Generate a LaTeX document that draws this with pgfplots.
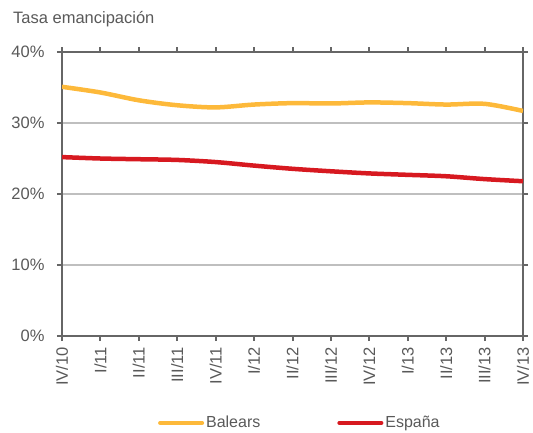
\documentclass[border=0pt]{standalone}
\usepackage{pgfplots}
\pgfplotsset{compat=1.18}
\usepackage{fontspec}
\setmainfont{Liberation Sans}
\definecolor{txt}{HTML}{595959}
\definecolor{axc}{HTML}{666666}
\definecolor{gridc}{HTML}{BFBFBF}
\definecolor{bal}{HTML}{FDB93A}
\definecolor{esp}{HTML}{D71920}
\begin{document}
\begin{tikzpicture}[x=1pt,y=1pt]
\path[use as bounding box] (0,0) rectangle (533,-432);
\node[anchor=west,text=txt,font=\fontsize{16.5}{18}\selectfont,inner sep=0pt] at (13,-19) {Tasa emancipación};
\begin{axis}[
  at={(62pt,-336pt)}, anchor=south west,
  scale only axis, width=461pt, height=284pt,
  xmin=0, xmax=12, ymin=0, ymax=40,
  xtick={0,...,12},
  xticklabels={IV/10,I/11,II/11,III/11,IV/11,I/12,II/12,III/12,IV/12,I/13,II/13,III/13,IV/13},
  xticklabel style={rotate=90, anchor=east, text=txt, font=\fontsize{16.5}{18}\selectfont, inner sep=2pt, xshift=-4pt},
  ytick={0,10,20,30,40},
  yticklabel={\pgfmathprintnumber{\tick}\%},
  yticklabel style={text=txt, font=\fontsize{16.5}{18}\selectfont, xshift=-9pt},
  /pgf/number format/assume math mode=true,
  tick align=outside, major tick length=5pt,
  tick style={axc, line width=2pt},
  axis line style={axc, line width=2.5pt},
  ymajorgrids, grid style={gridc, line width=2pt},
  legend style={at={(axis description cs:0.516,-0.306)}, anchor=center, draw=none, fill=none,
    legend columns=2, font=\fontsize{16}{18}\selectfont, text=txt,
    /tikz/every even column/.append style={column sep=75pt}},
  legend image code/.code={\draw[#1, line width=4pt, line cap=round] (0pt,0pt) -- (42pt,0pt);},
]
\addplot[bal, line width=4.5pt, smooth, tension=0.5] coordinates {
(0,35.1) (1,34.3) (2,33.2) (3,32.5) (4,32.2) (5,32.6) (6,32.8) (7,32.75) (8,32.9) (9,32.8) (10,32.6) (11,32.7) (12,31.7)};
\addlegendentry{Balears}
\addplot[esp, line width=4.5pt, smooth, tension=0.5] coordinates {
(0,25.2) (1,25.0) (2,24.9) (3,24.8) (4,24.5) (5,24.0) (6,23.55) (7,23.2) (8,22.9) (9,22.7) (10,22.5) (11,22.1) (12,21.8)};
\addlegendentry{España}
\end{axis}
\end{tikzpicture}
\end{document}
